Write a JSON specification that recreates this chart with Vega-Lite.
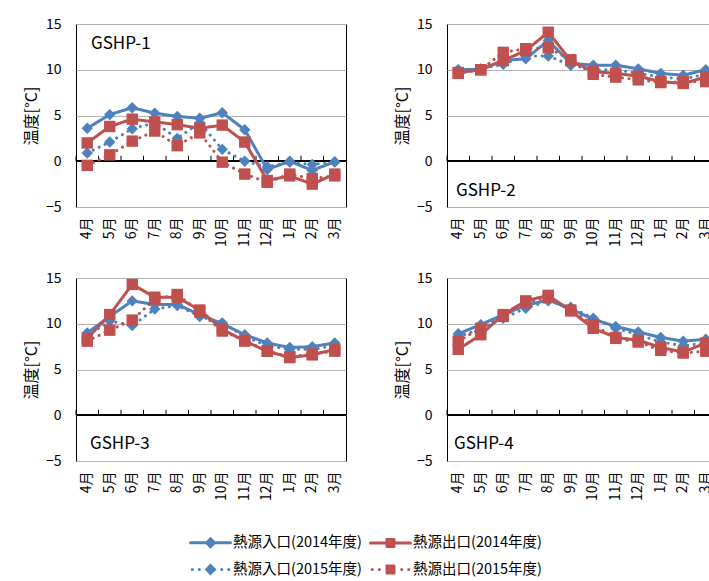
{
"$schema": "https://vega.github.io/schema/vega-lite/v6.json",
"background": "white",
"padding": {"left": 22, "top": 16, "right": 5, "bottom": 5},
"config": {
  "font": "Noto Sans CJK JP",
  "view": {"stroke": "#000", "strokeWidth": 1},
  "axis": {"labelFont": "Noto Sans CJK JP", "labelFontSize": 14, "labelColor": "#000", "titleFont": "Noto Sans CJK JP", "titleFontSize": 16, "titleFontWeight": "normal", "titleColor": "#000", "gridColor": "#b3b3b3", "gridWidth": 1},
  "legend": {"labelFont": "Noto Sans CJK JP", "labelFontSize": 14.5, "labelColor": "#000"}
},
"datasets": {"d": [
{"p":"GSHP-1","s":"熱源入口(2014年度)","m":"4月","v":3.6},{"p":"GSHP-1","s":"熱源入口(2014年度)","m":"5月","v":5.1},{"p":"GSHP-1","s":"熱源入口(2014年度)","m":"6月","v":5.85},{"p":"GSHP-1","s":"熱源入口(2014年度)","m":"7月","v":5.25},{"p":"GSHP-1","s":"熱源入口(2014年度)","m":"8月","v":4.9},{"p":"GSHP-1","s":"熱源入口(2014年度)","m":"9月","v":4.7},{"p":"GSHP-1","s":"熱源入口(2014年度)","m":"10月","v":5.3},{"p":"GSHP-1","s":"熱源入口(2014年度)","m":"11月","v":3.45},{"p":"GSHP-1","s":"熱源入口(2014年度)","m":"12月","v":-0.9},{"p":"GSHP-1","s":"熱源入口(2014年度)","m":"1月","v":0.0},{"p":"GSHP-1","s":"熱源入口(2014年度)","m":"2月","v":-1.0},{"p":"GSHP-1","s":"熱源入口(2014年度)","m":"3月","v":-0.05},
{"p":"GSHP-1","s":"熱源出口(2014年度)","m":"4月","v":2.0},{"p":"GSHP-1","s":"熱源出口(2014年度)","m":"5月","v":3.8},{"p":"GSHP-1","s":"熱源出口(2014年度)","m":"6月","v":4.6},{"p":"GSHP-1","s":"熱源出口(2014年度)","m":"7月","v":4.3},{"p":"GSHP-1","s":"熱源出口(2014年度)","m":"8月","v":4.0},{"p":"GSHP-1","s":"熱源出口(2014年度)","m":"9月","v":3.6},{"p":"GSHP-1","s":"熱源出口(2014年度)","m":"10月","v":3.95},{"p":"GSHP-1","s":"熱源出口(2014年度)","m":"11月","v":2.1},{"p":"GSHP-1","s":"熱源出口(2014年度)","m":"12月","v":-2.1},{"p":"GSHP-1","s":"熱源出口(2014年度)","m":"1月","v":-1.6},{"p":"GSHP-1","s":"熱源出口(2014年度)","m":"2月","v":-2.5},{"p":"GSHP-1","s":"熱源出口(2014年度)","m":"3月","v":-1.4},
{"p":"GSHP-1","s":"熱源入口(2015年度)","m":"4月","v":0.9},{"p":"GSHP-1","s":"熱源入口(2015年度)","m":"5月","v":2.1},{"p":"GSHP-1","s":"熱源入口(2015年度)","m":"6月","v":3.55},{"p":"GSHP-1","s":"熱源入口(2015年度)","m":"7月","v":4.2},{"p":"GSHP-1","s":"熱源入口(2015年度)","m":"8月","v":2.5},{"p":"GSHP-1","s":"熱源入口(2015年度)","m":"9月","v":4.2},{"p":"GSHP-1","s":"熱源入口(2015年度)","m":"10月","v":1.3},{"p":"GSHP-1","s":"熱源入口(2015年度)","m":"11月","v":0.0},{"p":"GSHP-1","s":"熱源入口(2015年度)","m":"12月","v":-0.6},{"p":"GSHP-1","s":"熱源入口(2015年度)","m":"1月","v":-0.1},{"p":"GSHP-1","s":"熱源入口(2015年度)","m":"2月","v":-0.35},{"p":"GSHP-1","s":"熱源入口(2015年度)","m":"3月","v":-0.1},
{"p":"GSHP-1","s":"熱源出口(2015年度)","m":"4月","v":-0.45},{"p":"GSHP-1","s":"熱源出口(2015年度)","m":"5月","v":0.7},{"p":"GSHP-1","s":"熱源出口(2015年度)","m":"6月","v":2.2},{"p":"GSHP-1","s":"熱源出口(2015年度)","m":"7月","v":3.3},{"p":"GSHP-1","s":"熱源出口(2015年度)","m":"8月","v":1.7},{"p":"GSHP-1","s":"熱源出口(2015年度)","m":"9月","v":3.1},{"p":"GSHP-1","s":"熱源出口(2015年度)","m":"10月","v":-0.1},{"p":"GSHP-1","s":"熱源出口(2015年度)","m":"11月","v":-1.4},{"p":"GSHP-1","s":"熱源出口(2015年度)","m":"12月","v":-2.3},{"p":"GSHP-1","s":"熱源出口(2015年度)","m":"1月","v":-1.4},{"p":"GSHP-1","s":"熱源出口(2015年度)","m":"2月","v":-1.9},{"p":"GSHP-1","s":"熱源出口(2015年度)","m":"3月","v":-1.6},
{"p":"GSHP-2","s":"熱源入口(2014年度)","m":"4月","v":10.0},{"p":"GSHP-2","s":"熱源入口(2014年度)","m":"5月","v":10.05},{"p":"GSHP-2","s":"熱源入口(2014年度)","m":"6月","v":11.0},{"p":"GSHP-2","s":"熱源入口(2014年度)","m":"7月","v":11.2},{"p":"GSHP-2","s":"熱源入口(2014年度)","m":"8月","v":13.2},{"p":"GSHP-2","s":"熱源入口(2014年度)","m":"9月","v":10.7},{"p":"GSHP-2","s":"熱源入口(2014年度)","m":"10月","v":10.5},{"p":"GSHP-2","s":"熱源入口(2014年度)","m":"11月","v":10.5},{"p":"GSHP-2","s":"熱源入口(2014年度)","m":"12月","v":10.1},{"p":"GSHP-2","s":"熱源入口(2014年度)","m":"1月","v":9.6},{"p":"GSHP-2","s":"熱源入口(2014年度)","m":"2月","v":9.4},{"p":"GSHP-2","s":"熱源入口(2014年度)","m":"3月","v":10.0},
{"p":"GSHP-2","s":"熱源出口(2014年度)","m":"4月","v":9.7},{"p":"GSHP-2","s":"熱源出口(2014年度)","m":"5月","v":10.0},{"p":"GSHP-2","s":"熱源出口(2014年度)","m":"6月","v":11.0},{"p":"GSHP-2","s":"熱源出口(2014年度)","m":"7月","v":12.1},{"p":"GSHP-2","s":"熱源出口(2014年度)","m":"8月","v":14.1},{"p":"GSHP-2","s":"熱源出口(2014年度)","m":"9月","v":11.0},{"p":"GSHP-2","s":"熱源出口(2014年度)","m":"10月","v":9.8},{"p":"GSHP-2","s":"熱源出口(2014年度)","m":"11月","v":9.6},{"p":"GSHP-2","s":"熱源出口(2014年度)","m":"12月","v":9.3},{"p":"GSHP-2","s":"熱源出口(2014年度)","m":"1月","v":8.7},{"p":"GSHP-2","s":"熱源出口(2014年度)","m":"2月","v":8.5},{"p":"GSHP-2","s":"熱源出口(2014年度)","m":"3月","v":9.2},
{"p":"GSHP-2","s":"熱源入口(2015年度)","m":"4月","v":9.9},{"p":"GSHP-2","s":"熱源入口(2015年度)","m":"5月","v":10.1},{"p":"GSHP-2","s":"熱源入口(2015年度)","m":"6月","v":10.6},{"p":"GSHP-2","s":"熱源入口(2015年度)","m":"7月","v":11.5},{"p":"GSHP-2","s":"熱源入口(2015年度)","m":"8月","v":11.5},{"p":"GSHP-2","s":"熱源入口(2015年度)","m":"9月","v":10.5},{"p":"GSHP-2","s":"熱源入口(2015年度)","m":"10月","v":10.0},{"p":"GSHP-2","s":"熱源入口(2015年度)","m":"11月","v":10.0},{"p":"GSHP-2","s":"熱源入口(2015年度)","m":"12月","v":9.6},{"p":"GSHP-2","s":"熱源入口(2015年度)","m":"1月","v":9.2},{"p":"GSHP-2","s":"熱源入口(2015年度)","m":"2月","v":9.0},{"p":"GSHP-2","s":"熱源入口(2015年度)","m":"3月","v":9.5},
{"p":"GSHP-2","s":"熱源出口(2015年度)","m":"4月","v":9.6},{"p":"GSHP-2","s":"熱源出口(2015年度)","m":"5月","v":10.0},{"p":"GSHP-2","s":"熱源出口(2015年度)","m":"6月","v":11.9},{"p":"GSHP-2","s":"熱源出口(2015年度)","m":"7月","v":12.3},{"p":"GSHP-2","s":"熱源出口(2015年度)","m":"8月","v":12.4},{"p":"GSHP-2","s":"熱源出口(2015年度)","m":"9月","v":11.1},{"p":"GSHP-2","s":"熱源出口(2015年度)","m":"10月","v":9.5},{"p":"GSHP-2","s":"熱源出口(2015年度)","m":"11月","v":9.2},{"p":"GSHP-2","s":"熱源出口(2015年度)","m":"12月","v":8.9},{"p":"GSHP-2","s":"熱源出口(2015年度)","m":"1月","v":8.6},{"p":"GSHP-2","s":"熱源出口(2015年度)","m":"2月","v":8.7},{"p":"GSHP-2","s":"熱源出口(2015年度)","m":"3月","v":8.7},
{"p":"GSHP-3","s":"熱源入口(2014年度)","m":"4月","v":9.0},{"p":"GSHP-3","s":"熱源入口(2014年度)","m":"5月","v":10.8},{"p":"GSHP-3","s":"熱源入口(2014年度)","m":"6月","v":12.5},{"p":"GSHP-3","s":"熱源入口(2014年度)","m":"7月","v":12.1},{"p":"GSHP-3","s":"熱源入口(2014年度)","m":"8月","v":12.1},{"p":"GSHP-3","s":"熱源入口(2014年度)","m":"9月","v":11.0},{"p":"GSHP-3","s":"熱源入口(2014年度)","m":"10月","v":10.0},{"p":"GSHP-3","s":"熱源入口(2014年度)","m":"11月","v":8.8},{"p":"GSHP-3","s":"熱源入口(2014年度)","m":"12月","v":7.9},{"p":"GSHP-3","s":"熱源入口(2014年度)","m":"1月","v":7.4},{"p":"GSHP-3","s":"熱源入口(2014年度)","m":"2月","v":7.5},{"p":"GSHP-3","s":"熱源入口(2014年度)","m":"3月","v":7.9},
{"p":"GSHP-3","s":"熱源出口(2014年度)","m":"4月","v":8.4},{"p":"GSHP-3","s":"熱源出口(2014年度)","m":"5月","v":11.0},{"p":"GSHP-3","s":"熱源出口(2014年度)","m":"6月","v":14.3},{"p":"GSHP-3","s":"熱源出口(2014年度)","m":"7月","v":12.9},{"p":"GSHP-3","s":"熱源出口(2014年度)","m":"8月","v":12.9},{"p":"GSHP-3","s":"熱源出口(2014年度)","m":"9月","v":11.5},{"p":"GSHP-3","s":"熱源出口(2014年度)","m":"10月","v":9.4},{"p":"GSHP-3","s":"熱源出口(2014年度)","m":"11月","v":8.1},{"p":"GSHP-3","s":"熱源出口(2014年度)","m":"12月","v":7.0},{"p":"GSHP-3","s":"熱源出口(2014年度)","m":"1月","v":6.3},{"p":"GSHP-3","s":"熱源出口(2014年度)","m":"2月","v":6.6},{"p":"GSHP-3","s":"熱源出口(2014年度)","m":"3月","v":7.2},
{"p":"GSHP-3","s":"熱源入口(2015年度)","m":"4月","v":8.7},{"p":"GSHP-3","s":"熱源入口(2015年度)","m":"5月","v":10.3},{"p":"GSHP-3","s":"熱源入口(2015年度)","m":"6月","v":9.8},{"p":"GSHP-3","s":"熱源入口(2015年度)","m":"7月","v":11.6},{"p":"GSHP-3","s":"熱源入口(2015年度)","m":"8月","v":12.0},{"p":"GSHP-3","s":"熱源入口(2015年度)","m":"9月","v":10.8},{"p":"GSHP-3","s":"熱源入口(2015年度)","m":"10月","v":10.1},{"p":"GSHP-3","s":"熱源入口(2015年度)","m":"11月","v":8.6},{"p":"GSHP-3","s":"熱源入口(2015年度)","m":"12月","v":7.6},{"p":"GSHP-3","s":"熱源入口(2015年度)","m":"1月","v":7.2},{"p":"GSHP-3","s":"熱源入口(2015年度)","m":"2月","v":7.2},{"p":"GSHP-3","s":"熱源入口(2015年度)","m":"3月","v":7.6},
{"p":"GSHP-3","s":"熱源出口(2015年度)","m":"4月","v":8.1},{"p":"GSHP-3","s":"熱源出口(2015年度)","m":"5月","v":9.3},{"p":"GSHP-3","s":"熱源出口(2015年度)","m":"6月","v":10.4},{"p":"GSHP-3","s":"熱源出口(2015年度)","m":"7月","v":12.7},{"p":"GSHP-3","s":"熱源出口(2015年度)","m":"8月","v":13.2},{"p":"GSHP-3","s":"熱源出口(2015年度)","m":"9月","v":11.3},{"p":"GSHP-3","s":"熱源出口(2015年度)","m":"10月","v":9.2},{"p":"GSHP-3","s":"熱源出口(2015年度)","m":"11月","v":8.2},{"p":"GSHP-3","s":"熱源出口(2015年度)","m":"12月","v":7.0},{"p":"GSHP-3","s":"熱源出口(2015年度)","m":"1月","v":6.4},{"p":"GSHP-3","s":"熱源出口(2015年度)","m":"2月","v":6.7},{"p":"GSHP-3","s":"熱源出口(2015年度)","m":"3月","v":7.0},
{"p":"GSHP-4","s":"熱源入口(2014年度)","m":"4月","v":8.9},{"p":"GSHP-4","s":"熱源入口(2014年度)","m":"5月","v":9.9},{"p":"GSHP-4","s":"熱源入口(2014年度)","m":"6月","v":11.0},{"p":"GSHP-4","s":"熱源入口(2014年度)","m":"7月","v":12.0},{"p":"GSHP-4","s":"熱源入口(2014年度)","m":"8月","v":12.6},{"p":"GSHP-4","s":"熱源入口(2014年度)","m":"9月","v":11.6},{"p":"GSHP-4","s":"熱源入口(2014年度)","m":"10月","v":10.5},{"p":"GSHP-4","s":"熱源入口(2014年度)","m":"11月","v":9.7},{"p":"GSHP-4","s":"熱源入口(2014年度)","m":"12月","v":9.1},{"p":"GSHP-4","s":"熱源入口(2014年度)","m":"1月","v":8.5},{"p":"GSHP-4","s":"熱源入口(2014年度)","m":"2月","v":8.1},{"p":"GSHP-4","s":"熱源入口(2014年度)","m":"3月","v":8.3},
{"p":"GSHP-4","s":"熱源出口(2014年度)","m":"4月","v":7.2},{"p":"GSHP-4","s":"熱源出口(2014年度)","m":"5月","v":8.8},{"p":"GSHP-4","s":"熱源出口(2014年度)","m":"6月","v":11.0},{"p":"GSHP-4","s":"熱源出口(2014年度)","m":"7月","v":12.5},{"p":"GSHP-4","s":"熱源出口(2014年度)","m":"8月","v":13.1},{"p":"GSHP-4","s":"熱源出口(2014年度)","m":"9月","v":11.4},{"p":"GSHP-4","s":"熱源出口(2014年度)","m":"10月","v":9.5},{"p":"GSHP-4","s":"熱源出口(2014年度)","m":"11月","v":8.5},{"p":"GSHP-4","s":"熱源出口(2014年度)","m":"12月","v":8.2},{"p":"GSHP-4","s":"熱源出口(2014年度)","m":"1月","v":7.4},{"p":"GSHP-4","s":"熱源出口(2014年度)","m":"2月","v":6.9},{"p":"GSHP-4","s":"熱源出口(2014年度)","m":"3月","v":7.9},
{"p":"GSHP-4","s":"熱源入口(2015年度)","m":"4月","v":8.6},{"p":"GSHP-4","s":"熱源入口(2015年度)","m":"5月","v":9.4},{"p":"GSHP-4","s":"熱源入口(2015年度)","m":"6月","v":10.6},{"p":"GSHP-4","s":"熱源入口(2015年度)","m":"7月","v":11.7},{"p":"GSHP-4","s":"熱源入口(2015年度)","m":"8月","v":12.5},{"p":"GSHP-4","s":"熱源入口(2015年度)","m":"9月","v":11.8},{"p":"GSHP-4","s":"熱源入口(2015年度)","m":"10月","v":10.6},{"p":"GSHP-4","s":"熱源入口(2015年度)","m":"11月","v":9.5},{"p":"GSHP-4","s":"熱源入口(2015年度)","m":"12月","v":8.8},{"p":"GSHP-4","s":"熱源入口(2015年度)","m":"1月","v":8.0},{"p":"GSHP-4","s":"熱源入口(2015年度)","m":"2月","v":7.6},{"p":"GSHP-4","s":"熱源入口(2015年度)","m":"3月","v":7.9},
{"p":"GSHP-4","s":"熱源出口(2015年度)","m":"4月","v":8.1},{"p":"GSHP-4","s":"熱源出口(2015年度)","m":"5月","v":9.5},{"p":"GSHP-4","s":"熱源出口(2015年度)","m":"6月","v":10.8},{"p":"GSHP-4","s":"熱源出口(2015年度)","m":"7月","v":12.3},{"p":"GSHP-4","s":"熱源出口(2015年度)","m":"8月","v":12.9},{"p":"GSHP-4","s":"熱源出口(2015年度)","m":"9月","v":11.5},{"p":"GSHP-4","s":"熱源出口(2015年度)","m":"10月","v":9.9},{"p":"GSHP-4","s":"熱源出口(2015年度)","m":"11月","v":8.4},{"p":"GSHP-4","s":"熱源出口(2015年度)","m":"12月","v":8.0},{"p":"GSHP-4","s":"熱源出口(2015年度)","m":"1月","v":7.1},{"p":"GSHP-4","s":"熱源出口(2015年度)","m":"2月","v":6.8},{"p":"GSHP-4","s":"熱源出口(2015年度)","m":"3月","v":7.0}
]},
"data": {"name": "d"},
"spacing": 22,
"resolve": {"scale": {"color": "shared"}, "legend": {"color": "shared"}},
"vconcat": [
{"spacing": 46, "hconcat": [
{"width": 270, "height": 183, "transform": [{"filter": "datum.p === 'GSHP-1'"}], "layer": [
 {"mark": {"type": "rule", "color": "#000", "strokeWidth": 1}, "encoding": {"y": {"datum": 0, "type": "quantitative"}}},
 {"transform": [{"filter": "datum.s === '熱源入口(2014年度)'"}], "mark": {"type": "rule", "color": "#000", "strokeWidth": 1}, "encoding": {"x": {"field": "m", "type": "ordinal", "bandPosition": 0, "sort": ["4月","5月","6月","7月","8月","9月","10月","11月","12月","1月","2月","3月"], "scale": {"type": "band", "paddingInner": 0, "paddingOuter": 0}, "axis": {"title": null, "labelAngle": -90, "ticks": false, "domain": false, "grid": false, "labelPadding": 10}}, "y": {"datum": 0, "type": "quantitative"}, "y2": {"datum": 0.6}}},
 {"transform": [{"filter": "indexof(datum.s, '2014') >= 0"}], "mark": {"type": "line", "strokeWidth": 3, "strokeCap": "round", "strokeDash": [1, 0]}, "encoding": {"x": {"field": "m", "type": "ordinal", "sort": ["4月","5月","6月","7月","8月","9月","10月","11月","12月","1月","2月","3月"], "scale": {"type": "band", "paddingInner": 0, "paddingOuter": 0}, "axis": {"title": null, "labelAngle": -90, "ticks": false, "domain": false, "grid": false, "labelPadding": 10}}, "y": {"field": "v", "type": "quantitative", "scale": {"domain": [-5, 15], "nice": false, "zero": false}, "axis": {"title": "温度[°C]", "values": [-5, 0, 5, 10, 15], "ticks": false, "domain": false, "grid": true, "labelPadding": 15, "titlePadding": 6}}, "color": {"field": "s", "type": "nominal", "scale": {"domain": ["熱源入口(2014年度)","熱源出口(2014年度)","熱源入口(2015年度)","熱源出口(2015年度)"], "range": ["#4f81bd","#c0504d","#4f81bd","#c0504d"]}, "legend": {"title": null, "orient": "none", "legendX": 113, "legendY": 510, "direction": "horizontal", "columns": 2, "symbolSize": 196, "symbolStrokeWidth": 3, "labelLimit": 400, "columnPadding": 2, "rowPadding": 6, "labelOffset": 27, "encoding": {"symbols": {"shape": {"value": {"expr": "indexof(datum.value, '2014') >= 0 ? (indexof(datum.value, '入口') >= 0 ? 'M-1,0H4.71M1.857,-0.55L2.41,0L1.857,0.55L1.31,0Z' : 'M-1,0H4.71M1.36,-0.5H2.36V0.5H1.36Z') : (indexof(datum.value, '入口') >= 0 ? 'M-0.743,0h0.01M0.257,0h0.01M3.457,0h0.01M4.457,0h0.01M1.857,-0.55L2.41,0L1.857,0.55L1.31,0Z' : 'M-0.743,0h0.01M0.257,0h0.01M3.457,0h0.01M4.457,0h0.01M1.36,-0.5H2.36V0.5H1.36Z')"}}, "fill": {"value": {"expr": "scale('color', datum.value)"}}, "stroke": {"value": {"expr": "scale('color', datum.value)"}}, "strokeDash": {"value": [1, 0]}, "strokeWidth": {"value": 3}, "strokeCap": {"value": "round"}, "opacity": {"value": 1}}}}}, "order": {"value": null}}},
 {"transform": [{"filter": "indexof(datum.s, '2015') >= 0"}], "mark": {"type": "line", "strokeWidth": 3, "strokeCap": "round", "strokeDash": [0.1, 6.5]}, "encoding": {"x": {"field": "m", "type": "ordinal", "sort": ["4月","5月","6月","7月","8月","9月","10月","11月","12月","1月","2月","3月"], "scale": {"type": "band", "paddingInner": 0, "paddingOuter": 0}, "axis": {"title": null, "labelAngle": -90, "ticks": false, "domain": false, "grid": false, "labelPadding": 10}}, "y": {"field": "v", "type": "quantitative"}, "color": {"field": "s", "type": "nominal"}, "order": {"value": null}}},
 {"transform": [{"filter": "indexof(datum.s, '入口') >= 0"}], "mark": {"type": "point", "shape": "diamond", "filled": true, "size": 130, "opacity": 1}, "encoding": {"x": {"field": "m", "type": "ordinal", "sort": ["4月","5月","6月","7月","8月","9月","10月","11月","12月","1月","2月","3月"], "scale": {"type": "band", "paddingInner": 0, "paddingOuter": 0}, "axis": {"title": null, "labelAngle": -90, "ticks": false, "domain": false, "grid": false, "labelPadding": 10}}, "y": {"field": "v", "type": "quantitative"}, "color": {"field": "s", "type": "nominal"}}},
 {"transform": [{"filter": "indexof(datum.s, '出口') >= 0"}], "mark": {"type": "point", "shape": "square", "filled": true, "size": 130, "opacity": 1}, "encoding": {"x": {"field": "m", "type": "ordinal", "sort": ["4月","5月","6月","7月","8月","9月","10月","11月","12月","1月","2月","3月"], "scale": {"type": "band", "paddingInner": 0, "paddingOuter": 0}, "axis": {"title": null, "labelAngle": -90, "ticks": false, "domain": false, "grid": false, "labelPadding": 10}}, "y": {"field": "v", "type": "quantitative"}, "color": {"field": "s", "type": "nominal"}}},
 {"transform": [{"filter": "datum.s === '熱源入口(2014年度)' && datum.m === '4月'"}], "mark": {"type": "text", "align": "left", "baseline": "middle", "dx": 15, "fontSize": 17, "color": "#000"}, "encoding": {"x": {"field": "m", "type": "ordinal", "bandPosition": 0, "sort": ["4月","5月","6月","7月","8月","9月","10月","11月","12月","1月","2月","3月"]}, "y": {"datum": 12.85, "type": "quantitative"}, "text": {"field": "p"}}}
]},
{"width": 270, "height": 183, "transform": [{"filter": "datum.p === 'GSHP-2'"}], "layer": [
 {"mark": {"type": "rule", "color": "#000", "strokeWidth": 1}, "encoding": {"y": {"datum": 0, "type": "quantitative"}}},
 {"transform": [{"filter": "datum.s === '熱源入口(2014年度)'"}], "mark": {"type": "rule", "color": "#000", "strokeWidth": 1}, "encoding": {"x": {"field": "m", "type": "ordinal", "bandPosition": 0, "sort": ["4月","5月","6月","7月","8月","9月","10月","11月","12月","1月","2月","3月"], "scale": {"type": "band", "paddingInner": 0, "paddingOuter": 0}, "axis": {"title": null, "labelAngle": -90, "ticks": false, "domain": false, "grid": false, "labelPadding": 10}}, "y": {"datum": 0, "type": "quantitative"}, "y2": {"datum": 0.6}}},
 {"transform": [{"filter": "indexof(datum.s, '2014') >= 0"}], "mark": {"type": "line", "strokeWidth": 3, "strokeCap": "round", "strokeDash": [1, 0]}, "encoding": {"x": {"field": "m", "type": "ordinal", "sort": ["4月","5月","6月","7月","8月","9月","10月","11月","12月","1月","2月","3月"], "scale": {"type": "band", "paddingInner": 0, "paddingOuter": 0}, "axis": {"title": null, "labelAngle": -90, "ticks": false, "domain": false, "grid": false, "labelPadding": 10}}, "y": {"field": "v", "type": "quantitative", "scale": {"domain": [-5, 15], "nice": false, "zero": false}, "axis": {"title": "温度[°C]", "values": [-5, 0, 5, 10, 15], "ticks": false, "domain": false, "grid": true, "labelPadding": 15, "titlePadding": 6}}, "color": {"field": "s", "type": "nominal"}, "order": {"value": null}}},
 {"transform": [{"filter": "indexof(datum.s, '2015') >= 0"}], "mark": {"type": "line", "strokeWidth": 3, "strokeCap": "round", "strokeDash": [0.1, 6.5]}, "encoding": {"x": {"field": "m", "type": "ordinal", "sort": ["4月","5月","6月","7月","8月","9月","10月","11月","12月","1月","2月","3月"], "scale": {"type": "band", "paddingInner": 0, "paddingOuter": 0}, "axis": {"title": null, "labelAngle": -90, "ticks": false, "domain": false, "grid": false, "labelPadding": 10}}, "y": {"field": "v", "type": "quantitative"}, "color": {"field": "s", "type": "nominal"}, "order": {"value": null}}},
 {"transform": [{"filter": "indexof(datum.s, '入口') >= 0"}], "mark": {"type": "point", "shape": "diamond", "filled": true, "size": 130, "opacity": 1}, "encoding": {"x": {"field": "m", "type": "ordinal", "sort": ["4月","5月","6月","7月","8月","9月","10月","11月","12月","1月","2月","3月"], "scale": {"type": "band", "paddingInner": 0, "paddingOuter": 0}, "axis": {"title": null, "labelAngle": -90, "ticks": false, "domain": false, "grid": false, "labelPadding": 10}}, "y": {"field": "v", "type": "quantitative"}, "color": {"field": "s", "type": "nominal"}}},
 {"transform": [{"filter": "indexof(datum.s, '出口') >= 0"}], "mark": {"type": "point", "shape": "square", "filled": true, "size": 130, "opacity": 1}, "encoding": {"x": {"field": "m", "type": "ordinal", "sort": ["4月","5月","6月","7月","8月","9月","10月","11月","12月","1月","2月","3月"], "scale": {"type": "band", "paddingInner": 0, "paddingOuter": 0}, "axis": {"title": null, "labelAngle": -90, "ticks": false, "domain": false, "grid": false, "labelPadding": 10}}, "y": {"field": "v", "type": "quantitative"}, "color": {"field": "s", "type": "nominal"}}},
 {"transform": [{"filter": "datum.s === '熱源入口(2014年度)' && datum.m === '4月'"}], "mark": {"type": "text", "align": "left", "baseline": "middle", "dx": 9, "fontSize": 17, "color": "#000"}, "encoding": {"x": {"field": "m", "type": "ordinal", "bandPosition": 0, "sort": ["4月","5月","6月","7月","8月","9月","10月","11月","12月","1月","2月","3月"]}, "y": {"datum": -3.2, "type": "quantitative"}, "text": {"field": "p"}}}
]}
]},
{"spacing": 46, "hconcat": [
{"width": 270, "height": 183, "transform": [{"filter": "datum.p === 'GSHP-3'"}], "layer": [
 {"mark": {"type": "rule", "color": "#000", "strokeWidth": 1}, "encoding": {"y": {"datum": 0, "type": "quantitative"}}},
 {"transform": [{"filter": "datum.s === '熱源入口(2014年度)'"}], "mark": {"type": "rule", "color": "#000", "strokeWidth": 1}, "encoding": {"x": {"field": "m", "type": "ordinal", "bandPosition": 0, "sort": ["4月","5月","6月","7月","8月","9月","10月","11月","12月","1月","2月","3月"], "scale": {"type": "band", "paddingInner": 0, "paddingOuter": 0}, "axis": {"title": null, "labelAngle": -90, "ticks": false, "domain": false, "grid": false, "labelPadding": 10}}, "y": {"datum": 0, "type": "quantitative"}, "y2": {"datum": 0.6}}},
 {"transform": [{"filter": "indexof(datum.s, '2014') >= 0"}], "mark": {"type": "line", "strokeWidth": 3, "strokeCap": "round", "strokeDash": [1, 0]}, "encoding": {"x": {"field": "m", "type": "ordinal", "sort": ["4月","5月","6月","7月","8月","9月","10月","11月","12月","1月","2月","3月"], "scale": {"type": "band", "paddingInner": 0, "paddingOuter": 0}, "axis": {"title": null, "labelAngle": -90, "ticks": false, "domain": false, "grid": false, "labelPadding": 10}}, "y": {"field": "v", "type": "quantitative", "scale": {"domain": [-5, 15], "nice": false, "zero": false}, "axis": {"title": "温度[°C]", "values": [-5, 0, 5, 10, 15], "ticks": false, "domain": false, "grid": true, "labelPadding": 15, "titlePadding": 6}}, "color": {"field": "s", "type": "nominal"}, "order": {"value": null}}},
 {"transform": [{"filter": "indexof(datum.s, '2015') >= 0"}], "mark": {"type": "line", "strokeWidth": 3, "strokeCap": "round", "strokeDash": [0.1, 6.5]}, "encoding": {"x": {"field": "m", "type": "ordinal", "sort": ["4月","5月","6月","7月","8月","9月","10月","11月","12月","1月","2月","3月"], "scale": {"type": "band", "paddingInner": 0, "paddingOuter": 0}, "axis": {"title": null, "labelAngle": -90, "ticks": false, "domain": false, "grid": false, "labelPadding": 10}}, "y": {"field": "v", "type": "quantitative"}, "color": {"field": "s", "type": "nominal"}, "order": {"value": null}}},
 {"transform": [{"filter": "indexof(datum.s, '入口') >= 0"}], "mark": {"type": "point", "shape": "diamond", "filled": true, "size": 130, "opacity": 1}, "encoding": {"x": {"field": "m", "type": "ordinal", "sort": ["4月","5月","6月","7月","8月","9月","10月","11月","12月","1月","2月","3月"], "scale": {"type": "band", "paddingInner": 0, "paddingOuter": 0}, "axis": {"title": null, "labelAngle": -90, "ticks": false, "domain": false, "grid": false, "labelPadding": 10}}, "y": {"field": "v", "type": "quantitative"}, "color": {"field": "s", "type": "nominal"}}},
 {"transform": [{"filter": "indexof(datum.s, '出口') >= 0"}], "mark": {"type": "point", "shape": "square", "filled": true, "size": 130, "opacity": 1}, "encoding": {"x": {"field": "m", "type": "ordinal", "sort": ["4月","5月","6月","7月","8月","9月","10月","11月","12月","1月","2月","3月"], "scale": {"type": "band", "paddingInner": 0, "paddingOuter": 0}, "axis": {"title": null, "labelAngle": -90, "ticks": false, "domain": false, "grid": false, "labelPadding": 10}}, "y": {"field": "v", "type": "quantitative"}, "color": {"field": "s", "type": "nominal"}}},
 {"transform": [{"filter": "datum.s === '熱源入口(2014年度)' && datum.m === '4月'"}], "mark": {"type": "text", "align": "left", "baseline": "middle", "dx": 14, "fontSize": 17, "color": "#000"}, "encoding": {"x": {"field": "m", "type": "ordinal", "bandPosition": 0, "sort": ["4月","5月","6月","7月","8月","9月","10月","11月","12月","1月","2月","3月"]}, "y": {"datum": -3.1, "type": "quantitative"}, "text": {"field": "p"}}}
]},
{"width": 270, "height": 183, "transform": [{"filter": "datum.p === 'GSHP-4'"}], "layer": [
 {"mark": {"type": "rule", "color": "#000", "strokeWidth": 1}, "encoding": {"y": {"datum": 0, "type": "quantitative"}}},
 {"transform": [{"filter": "datum.s === '熱源入口(2014年度)'"}], "mark": {"type": "rule", "color": "#000", "strokeWidth": 1}, "encoding": {"x": {"field": "m", "type": "ordinal", "bandPosition": 0, "sort": ["4月","5月","6月","7月","8月","9月","10月","11月","12月","1月","2月","3月"], "scale": {"type": "band", "paddingInner": 0, "paddingOuter": 0}, "axis": {"title": null, "labelAngle": -90, "ticks": false, "domain": false, "grid": false, "labelPadding": 10}}, "y": {"datum": 0, "type": "quantitative"}, "y2": {"datum": 0.6}}},
 {"transform": [{"filter": "indexof(datum.s, '2014') >= 0"}], "mark": {"type": "line", "strokeWidth": 3, "strokeCap": "round", "strokeDash": [1, 0]}, "encoding": {"x": {"field": "m", "type": "ordinal", "sort": ["4月","5月","6月","7月","8月","9月","10月","11月","12月","1月","2月","3月"], "scale": {"type": "band", "paddingInner": 0, "paddingOuter": 0}, "axis": {"title": null, "labelAngle": -90, "ticks": false, "domain": false, "grid": false, "labelPadding": 10}}, "y": {"field": "v", "type": "quantitative", "scale": {"domain": [-5, 15], "nice": false, "zero": false}, "axis": {"title": "温度[°C]", "values": [-5, 0, 5, 10, 15], "ticks": false, "domain": false, "grid": true, "labelPadding": 15, "titlePadding": 6}}, "color": {"field": "s", "type": "nominal"}, "order": {"value": null}}},
 {"transform": [{"filter": "indexof(datum.s, '2015') >= 0"}], "mark": {"type": "line", "strokeWidth": 3, "strokeCap": "round", "strokeDash": [0.1, 6.5]}, "encoding": {"x": {"field": "m", "type": "ordinal", "sort": ["4月","5月","6月","7月","8月","9月","10月","11月","12月","1月","2月","3月"], "scale": {"type": "band", "paddingInner": 0, "paddingOuter": 0}, "axis": {"title": null, "labelAngle": -90, "ticks": false, "domain": false, "grid": false, "labelPadding": 10}}, "y": {"field": "v", "type": "quantitative"}, "color": {"field": "s", "type": "nominal"}, "order": {"value": null}}},
 {"transform": [{"filter": "indexof(datum.s, '入口') >= 0"}], "mark": {"type": "point", "shape": "diamond", "filled": true, "size": 130, "opacity": 1}, "encoding": {"x": {"field": "m", "type": "ordinal", "sort": ["4月","5月","6月","7月","8月","9月","10月","11月","12月","1月","2月","3月"], "scale": {"type": "band", "paddingInner": 0, "paddingOuter": 0}, "axis": {"title": null, "labelAngle": -90, "ticks": false, "domain": false, "grid": false, "labelPadding": 10}}, "y": {"field": "v", "type": "quantitative"}, "color": {"field": "s", "type": "nominal"}}},
 {"transform": [{"filter": "indexof(datum.s, '出口') >= 0"}], "mark": {"type": "point", "shape": "square", "filled": true, "size": 130, "opacity": 1}, "encoding": {"x": {"field": "m", "type": "ordinal", "sort": ["4月","5月","6月","7月","8月","9月","10月","11月","12月","1月","2月","3月"], "scale": {"type": "band", "paddingInner": 0, "paddingOuter": 0}, "axis": {"title": null, "labelAngle": -90, "ticks": false, "domain": false, "grid": false, "labelPadding": 10}}, "y": {"field": "v", "type": "quantitative"}, "color": {"field": "s", "type": "nominal"}}},
 {"transform": [{"filter": "datum.s === '熱源入口(2014年度)' && datum.m === '4月'"}], "mark": {"type": "text", "align": "left", "baseline": "middle", "dx": 7, "fontSize": 17, "color": "#000"}, "encoding": {"x": {"field": "m", "type": "ordinal", "bandPosition": 0, "sort": ["4月","5月","6月","7月","8月","9月","10月","11月","12月","1月","2月","3月"]}, "y": {"datum": -3.1, "type": "quantitative"}, "text": {"field": "p"}}}
]}
]}
]
}
